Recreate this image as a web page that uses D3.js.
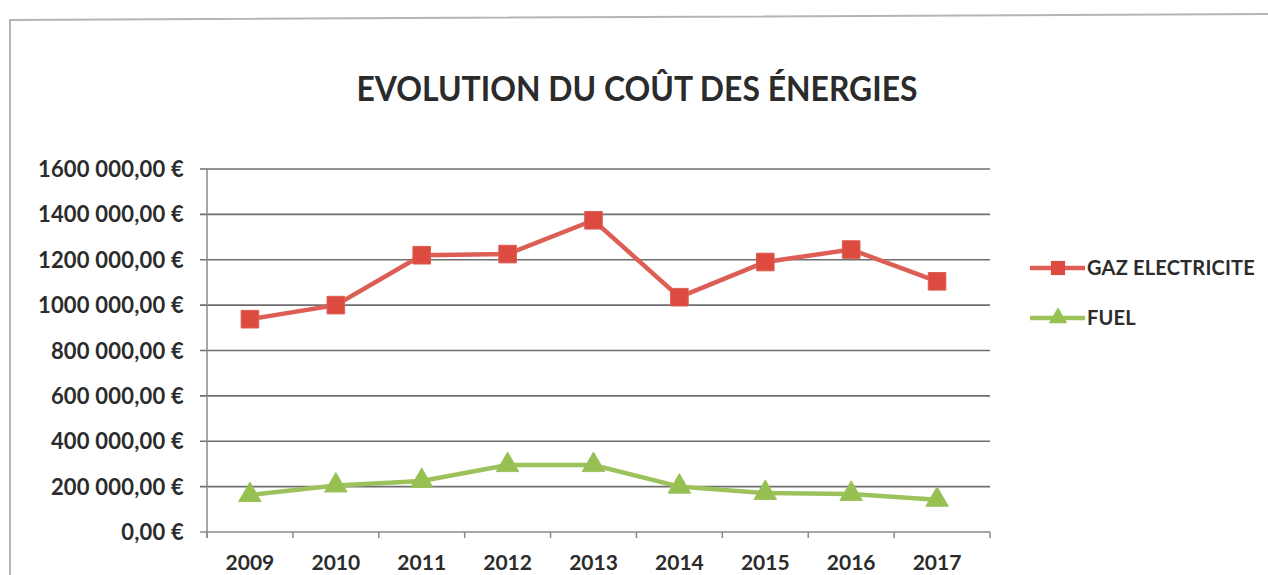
<!DOCTYPE html>
<html>
<head>
<meta charset="utf-8">
<script src="https://cdn.jsdelivr.net/npm/d3@7"></script>
<style>
  body { margin: 0; background: #fff; }
  svg { display: block; }
  text { font-family: Lato, "Open Sans", sans-serif; font-weight: bold; fill: #2b2b2b; }
</style>
</head>
<body>
<svg width="1268" height="575"></svg>
<script>
var years = ["2009", "2010", "2011", "2012", "2013", "2014", "2015", "2016", "2017"];
var gazElec = [938000, 1000000, 1220000, 1225000, 1374000, 1035000, 1190000, 1245000, 1105000];
var fuel = [163000, 205000, 225000, 295000, 295000, 200000, 172000, 168000, 142000];
var yTicks = [0, 200000, 400000, 600000, 800000, 1000000, 1200000, 1400000, 1600000];
var seriesNames = ["GAZ ELECTRICITE", "FUEL"];

var svg = d3.select("svg"),
    plotLeft = 207, plotRight = 980, plotTop = 169, plotBottom = 532;

// frame of the chart area
svg.append("path")
    .attr("d", "M10,575 L10,20 L1268,14")
    .attr("fill", "none")
    .attr("stroke", "#b5b5b5")
    .attr("stroke-width", 2);

svg.append("text")
    .attr("x", 637).attr("y", 101)
    .attr("text-anchor", "middle")
    .attr("font-size", 34)
    .attr("font-weight", 900)
    .attr("textLength", 561)
    .attr("lengthAdjust", "spacingAndGlyphs")
    .text("EVOLUTION DU COÛT DES ÉNERGIES");

var x = d3.scaleBand().domain(years).range([plotLeft, plotRight]);
var y = d3.scaleLinear().domain([0, 1600000]).range([plotBottom, plotTop]);

function label(d) {
  if (d === 0) return "0,00 €";
  return (d / 1000) + " 000,00 €";
}

// gridlines
svg.append("g").selectAll("line")
  .data(yTicks)
  .enter().append("line")
    .attr("x1", plotLeft - 7).attr("x2", plotRight + 10)
    .attr("y1", function(d) { return y(d); })
    .attr("y2", function(d) { return y(d); })
    .attr("stroke", function(d) { return d === 0 ? "#8a8a8a" : "#6e6e6e"; })
    .attr("stroke-width", 1.6);

// y axis line
svg.append("line")
    .attr("x1", plotLeft).attr("x2", plotLeft)
    .attr("y1", plotTop).attr("y2", plotBottom + 6)
    .attr("stroke", "#8a8a8a").attr("stroke-width", 1.5);

// x ticks at category boundaries
var bounds = years.map(function(d) { return x(d); }).concat([plotRight + 10]);
svg.append("g").selectAll("line")
  .data(bounds)
  .enter().append("line")
    .attr("x1", function(d) { return d; }).attr("x2", function(d) { return d; })
    .attr("y1", plotBottom).attr("y2", plotBottom + 6)
    .attr("stroke", "#8a8a8a").attr("stroke-width", 1.5);

svg.append("g").selectAll("text")
  .data(yTicks)
  .enter().append("text")
    .attr("x", 184)
    .attr("y", function(d) { return y(d) + 8; })
    .attr("text-anchor", "end")
    .attr("font-size", 22)
    .attr("letter-spacing", 0.2)
    .text(label);

svg.append("g").selectAll("text")
  .data(years)
  .enter().append("text")
    .attr("x", function(d) { return x(d) + x.bandwidth() / 2; })
    .attr("y", 570)
    .attr("text-anchor", "middle")
    .attr("font-size", 21)
    .text(function(d) { return d; });

var line = d3.line()
    .x(function(d, i) { return x(years[i]) + x.bandwidth() / 2; })
    .y(function(d) { return y(d); });

var colors = ["#dd5e55", "#9dc25c"];
var markerFill = ["#dc4a40", "#96c052"];

function drawSeries(vals, k) {
  svg.append("path")
      .datum(vals)
      .attr("fill", "none")
      .attr("stroke", colors[k])
      .attr("stroke-width", 4.5)
      .attr("d", line);
  svg.append("g").selectAll("path")
    .data(vals)
    .enter().append("path")
      .attr("transform", function(d, i) {
        return "translate(" + (x(years[i]) + x.bandwidth() / 2) + "," + y(d) + ")";
      })
      .attr("fill", markerFill[k])
      .attr("stroke", colors[k])
      .attr("stroke-width", 1)
      .attr("d", d3.symbol().type(k === 0 ? d3.symbolSquare : d3.symbolTriangle).size(k === 0 ? 310 : 220)());
}
drawSeries(gazElec, 0);
drawSeries(fuel, 1);

// legend
var legend = svg.append("g").selectAll("g")
  .data(seriesNames)
  .enter().append("g")
    .attr("transform", function(d, i) { return "translate(1030," + (268 + i * 50) + ")"; });
legend.append("line")
    .attr("x1", 0).attr("x2", 55)
    .attr("stroke", function(d, i) { return colors[i]; })
    .attr("stroke-width", 4.5);
legend.append("path")
    .attr("transform", "translate(28,0)")
    .attr("fill", function(d, i) { return markerFill[i]; })
    .attr("d", function(d, i) {
      return d3.symbol().type(i === 0 ? d3.symbolSquare : d3.symbolTriangle).size(i === 0 ? 200 : 150)();
    });
legend.append("text")
    .attr("x", 57).attr("y", 7)
    .attr("font-size", 20)
    .attr("letter-spacing", 0.2)
    .text(function(d) { return d; });
</script>
</body>
</html>
